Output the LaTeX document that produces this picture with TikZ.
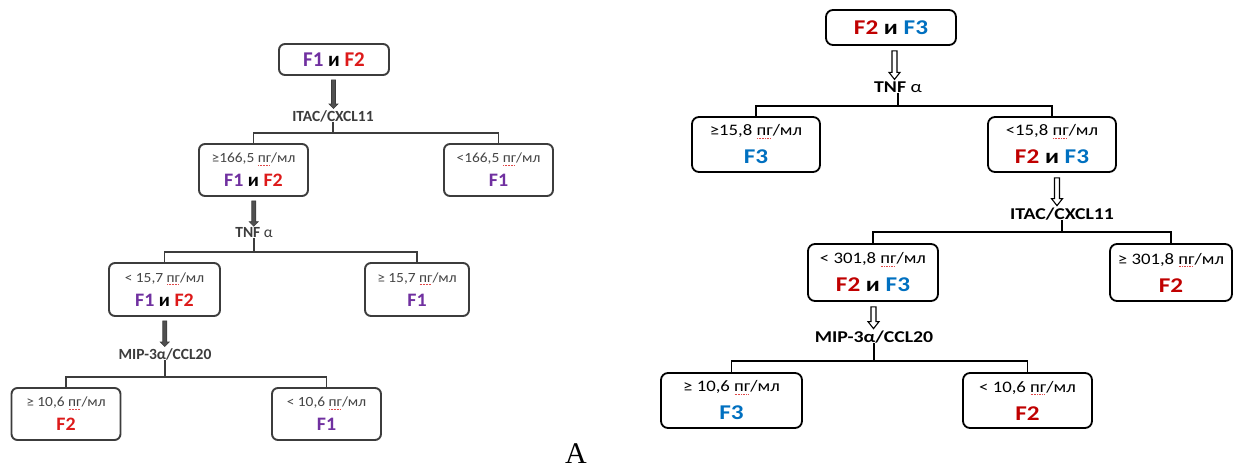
\documentclass[tikz,border=0pt]{standalone}
\usepackage{fontspec}
\usepackage{graphicx}
\setmainfont{Carlito}
\newfontfamily\serifA{Liberation Serif}
\usetikzlibrary{calc}
\definecolor{fone}{HTML}{7030A0}
\definecolor{ftwo}{HTML}{C00000}
\definecolor{lftwo}{HTML}{DD1A1A}
\definecolor{fthree}{HTML}{0070C0}
\definecolor{squig}{HTML}{E04848}
\definecolor{lgray}{HTML}{3C3C3C}
\definecolor{ltext}{HTML}{454545}
% coloured class labels
\newcommand\Fa{\textcolor{fone}{F1}}
\newcommand\Fb{\textcolor{ftwo}{F2}}
\newcommand\Fbl{\textcolor{lftwo}{F2}}
\newcommand\Fc{\textcolor{fthree}{F3}}
% "пг" with a red dotted spell-check underline
\newcommand\pgw{\setbox0\hbox{пг}\rlap{\textcolor{squig}{\raisebox{-2.4pt}{\hbox to \wd0{\leaders\hbox to 1.4pt{\hss\rule{0.7pt}{0.6pt}\hss}\hfil}}}}\box0}
% text styles
\newcommand\rthr[1]{\scalebox{1.17}[1]{\fontsize{16}{28}\selectfont #1}}
\newcommand\rF[1]{\scalebox{1.2}[1]{\fontsize{21}{28}\selectfont\bfseries #1}}
\newcommand\rlabtxt[1]{\scalebox{1.2}[1]{\fontsize{16.5}{20}\selectfont #1}}
\newcommand\lthr[1]{\scalebox{1.1}[1]{\fontsize{14}{24}\selectfont\color{ltext} #1}}
\newcommand\lF[1]{\scalebox{1.05}[1]{\fontsize{19}{24}\selectfont\bfseries #1}}
\newcommand\lFtop[1]{\scalebox{1.0}[1]{\fontsize{21}{24}\selectfont\bfseries #1}}
\newcommand\llabtxt[1]{\scalebox{1.0}[1]{\fontsize{15.5}{20}\selectfont\color{lgray} #1}}
% block arrows between a box and a label
\newcommand\rarrow[2]{\draw[rarr] let \p1=(#1.south), \p2=(#2.north), \p3=($(#1.south)!0.5!(#2.north)$) in
  (\x3-2.5pt,\y1-5pt) -- (\x3+2.5pt,\y1-5pt) -- (\x3+2.5pt,\y2+9pt) -- (\x3+5.5pt,\y2+9pt) -- (\x3,\y2+2pt) -- (\x3-5.5pt,\y2+9pt) -- (\x3-2.5pt,\y2+9pt) -- cycle;}
\newcommand\larrow[2]{\draw[larr] let \p1=(#1.south), \p2=(#2.north), \p3=($(#1.south)!0.5!(#2.north)$) in
  (\x3-2pt,\y1-4pt) -- (\x3+2pt,\y1-4pt) -- (\x3+2pt,\y2+6pt) -- (\x3+4.5pt,\y2+6pt) -- (\x3,\y2+1.5pt) -- (\x3-4.5pt,\y2+6pt) -- (\x3-2pt,\y2+6pt) -- cycle;}
\begin{document}
\begin{tikzpicture}[x=1pt,y=-1pt,
  rbox/.style={draw=black, line width=1.8pt, rounded corners=7pt, inner sep=0pt, align=center, fill=white, font=\fontsize{21}{28}\selectfont},
  lbox/.style={draw=lgray, line width=1.9pt, rounded corners=6pt, inner sep=0pt, align=center, fill=white, font=\fontsize{19}{24}\selectfont},
  rlab/.style={inner sep=0pt},
  llab/.style={inner sep=0pt},
  rline/.style={draw=black, line width=1.7pt},
  lline/.style={draw=lgray, line width=1.8pt},
  rarr/.style={draw=black, line width=1.1pt, fill=white, line join=miter},
  larr/.style={draw=lgray, fill=lgray!90, line width=0.6pt, line join=miter}]
\useasboundingbox[fill=white] (0,0) rectangle (1244,468);
% ---------------- left tree ----------------
\node[lbox, minimum width=110pt, minimum height=31pt] (lt0) at (334,59.5) {\lFtop{\Fa\ и \Fbl}};
\node[llab] (llab1) at (333,116) {\llabtxt{\bfseries ITAC/CXCL11}};
\node[lbox, minimum width=109pt, minimum height=52pt] (l1a) at (253.5,170) {\lthr{≥166,5 \pgw/мл}\\\lF{\Fa\ и \Fbl}};
\node[lbox, minimum width=109pt, minimum height=52pt] (l1b) at (498.5,170) {\lthr{<166,5 \pgw/мл}\\\lF{\Fa}};
\node[llab] (llab2) at (254,233) {\llabtxt{\textbf{TNF} α}};
\node[lbox, minimum width=111pt, minimum height=53pt] (l2a) at (164.5,289.5) {\lthr{< 15,7 \pgw/мл}\\\lF{\Fa\ и \Fbl}};
\node[lbox, minimum width=104pt, minimum height=53pt] (l2b) at (417,289.5) {\lthr{≥ 15,7 \pgw/мл}\\\lF{\Fa}};
\node[llab] (llab3) at (165,354) {\llabtxt{\bfseries MIP-3α/CCL20}};
\node[lbox, minimum width=109pt, minimum height=52pt] (l3a) at (66,414) {\lthr{≥ 10,6 \pgw/мл}\\\lF{\Fbl}};
\node[lbox, minimum width=109pt, minimum height=52pt] (l3b) at (326.5,414) {\lthr{< 10,6 \pgw/мл}\\\lF{\Fa}};
\coordinate (lb1) at (0,133);
\coordinate (lb2) at (0,252);
\coordinate (lb3) at (0,377);
\larrow{lt0}{llab1}
\larrow{l1a}{llab2}
\larrow{l2a}{llab3}
\draw[lline] (llab1.south) -- (llab1.south |- lb1) -| (l1a.north);
\draw[lline] (llab1.south |- lb1) -| (l1b.north);
\draw[lline] (llab2.south) -- (llab2.south |- lb2) -| (l2a.north);
\draw[lline] (llab2.south |- lb2) -| (l2b.north);
\draw[lline] (llab3.south) -- (llab3.south |- lb3) -| (l3a.north);
\draw[lline] (llab3.south |- lb3) -| (l3b.north);
% ---------------- right tree ----------------
\node[rbox, minimum width=130pt, minimum height=35pt] (rt0) at (891,27.5) {\rF{\Fb\ и \Fc}};
\node[rlab] (rlab1) at (898,87) {\rlabtxt{\textbf{TNF} α}};
\node[rbox, minimum width=128pt, minimum height=55pt] (r1a) at (756,144.5) {\rthr{≥15,8 \pgw/мл}\\\rF{\Fc}};
\node[rbox, minimum width=128pt, minimum height=55pt] (r1b) at (1052,144.5) {\rthr{<15,8 \pgw/мл}\\\rF{\Fb\ и \Fc}};
\node[rlab] (rlab2) at (1062,214) {\rlabtxt{\bfseries ITAC/CXCL11}};
\node[rbox, minimum width=130pt, minimum height=57pt] (r2a) at (873,272.5) {\rthr{< 301,8 \pgw/мл}\\\rF{\Fb\ и \Fc}};
\node[rbox, minimum width=122pt, minimum height=57pt] (r2b) at (1171,272.5) {\rthr{≥ 301,8 \pgw/мл}\\\rF{\Fb}};
\node[rlab] (rlab3) at (874,337) {\rlabtxt{\bfseries MIP-3α/CCL20}};
\node[rbox, minimum width=141pt, minimum height=55pt] (r3a) at (731.5,400.5) {\rthr{≥ 10,6 \pgw/мл}\\\rF{\Fc}};
\node[rbox, minimum width=129pt, minimum height=55pt] (r3b) at (1027.5,400.5) {\rthr{< 10,6 \pgw/мл}\\\rF{\Fb}};
\coordinate (rb1) at (0,106);
\coordinate (rb2) at (0,232);
\coordinate (rb3) at (0,361);
\rarrow{rt0}{rlab1}
\rarrow{r1b}{rlab2}
\rarrow{r2a}{rlab3}
\draw[rline] (rlab1.south) -- (rlab1.south |- rb1) -| (r1a.north);
\draw[rline] (rlab1.south |- rb1) -| (r1b.north);
\draw[rline] (rlab2.south) -- (rlab2.south |- rb2) -| (r2a.north);
\draw[rline] (rlab2.south |- rb2) -| (r2b.north);
\draw[rline] (rlab3.south) -- (rlab3.south |- rb3) -| (r3a.north);
\draw[rline] (rlab3.south |- rb3) -| (r3b.north);
% panel letter
\node[inner sep=0pt, font=\serifA\fontsize{30}{30}\selectfont] (panelA) at (576,454) {A};
\end{tikzpicture}
\end{document}
